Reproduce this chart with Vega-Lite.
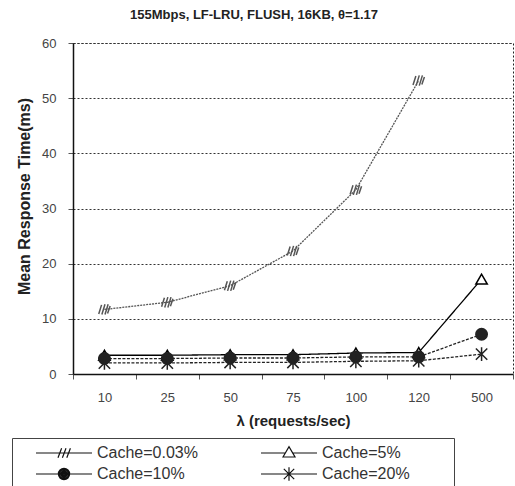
{
  "$schema": "https://vega.github.io/schema/vega-lite/v6.json",
  "width": 440,
  "height": 331,
  "autosize": "none",
  "padding": {"left": 73, "top": 43, "right": 2, "bottom": 112},
  "title": {"text": "155Mbps, LF-LRU, FLUSH, 16KB, θ=1.17", "fontSize": 13, "fontWeight": "bold", "font": "Liberation Sans", "color": "#222", "offset": 15, "dx": -39},
  "config": {"font": "Liberation Sans", "view": {"stroke": "#222", "strokeDash": [2, 2]}},
  "resolve": {"scale": {"shape": "independent"}, "legend": {"shape": "independent"}},
  "data": {"values": [
    {"lam": 10, "series": "Cache=0.03%", "t": 11.7},
    {"lam": 25, "series": "Cache=0.03%", "t": 13.0},
    {"lam": 50, "series": "Cache=0.03%", "t": 16.0},
    {"lam": 75, "series": "Cache=0.03%", "t": 22.3},
    {"lam": 100, "series": "Cache=0.03%", "t": 33.4},
    {"lam": 120, "series": "Cache=0.03%", "t": 53.2},
    {"lam": 10, "series": "Cache=5%", "t": 3.4},
    {"lam": 25, "series": "Cache=5%", "t": 3.4},
    {"lam": 50, "series": "Cache=5%", "t": 3.5},
    {"lam": 75, "series": "Cache=5%", "t": 3.5},
    {"lam": 100, "series": "Cache=5%", "t": 3.8},
    {"lam": 120, "series": "Cache=5%", "t": 3.9},
    {"lam": 500, "series": "Cache=5%", "t": 17.2},
    {"lam": 10, "series": "Cache=10%", "t": 2.8},
    {"lam": 25, "series": "Cache=10%", "t": 2.8},
    {"lam": 50, "series": "Cache=10%", "t": 2.9},
    {"lam": 75, "series": "Cache=10%", "t": 2.9},
    {"lam": 100, "series": "Cache=10%", "t": 3.1},
    {"lam": 120, "series": "Cache=10%", "t": 3.1},
    {"lam": 500, "series": "Cache=10%", "t": 7.2},
    {"lam": 10, "series": "Cache=20%", "t": 2.0},
    {"lam": 25, "series": "Cache=20%", "t": 2.0},
    {"lam": 50, "series": "Cache=20%", "t": 2.1},
    {"lam": 75, "series": "Cache=20%", "t": 2.1},
    {"lam": 100, "series": "Cache=20%", "t": 2.3},
    {"lam": 120, "series": "Cache=20%", "t": 2.4},
    {"lam": 500, "series": "Cache=20%", "t": 3.6}
  ]},
  "encoding": {
    "x": {
      "field": "lam", "type": "ordinal", "bandPosition": 0.5,
      "scale": {"type": "band", "paddingInner": 0, "paddingOuter": 0},
      "axis": {"title": "λ (requests/sec)", "labelAngle": 0, "labelFontSize": 13, "labelColor": "#444", "labelPadding": 12, "tickBand": "extent", "tickSize": 5, "tickColor": "#555", "domainColor": "#111", "domainWidth": 1.5, "grid": false, "titleFontSize": 15, "titleFontWeight": "bold", "titleColor": "#222", "titlePadding": 9}
    },
    "y": {
      "field": "t", "type": "quantitative",
      "scale": {"domain": [0, 60], "nice": false},
      "axis": {"title": "Mean Response Time(ms)", "values": [0, 10, 20, 30, 40, 50, 60], "titleFontSize": 16, "titleFontWeight": "bold", "titleColor": "#222", "titleX": -41, "titleY": 153, "grid": true, "gridColor": "#333", "gridDash": [2, 2], "domainColor": "#111", "domainWidth": 1.5, "tickColor": "#555", "tickSize": 5, "labelFontSize": 13, "labelColor": "#444", "labelPadding": 12}
    }
  },
  "layer": [
    {
      "mark": {"type": "line", "strokeWidth": 1.3},
      "encoding": {
        "stroke": {"field": "series", "type": "nominal", "scale": {"domain": ["Cache=5%", "Cache=0.03%", "Cache=10%", "Cache=20%"], "range": ["#000", "#555", "#222", "#222"]}, "legend": null},
        "strokeDash": {"field": "series", "type": "nominal", "scale": {"domain": ["Cache=5%", "Cache=0.03%", "Cache=10%", "Cache=20%"], "range": [[1, 0], [2, 1], [3, 1.5], [3, 1.5]]}, "legend": null}
      }
    },
    {
      "mark": {"type": "point", "strokeWidth": 1.5, "opacity": 1, "size": 130},
      "encoding": {
        "stroke": {"field": "series", "type": "nominal", "scale": {"domain": ["Cache=5%", "Cache=0.03%", "Cache=10%", "Cache=20%"], "range": ["#000", "#555", "#222", "#222"]}, "legend": null},
        "fill": {"field": "series", "type": "nominal", "scale": {"domain": ["Cache=5%", "Cache=0.03%", "Cache=10%", "Cache=20%"], "range": ["#fff", "transparent", "#222", "transparent"]}, "legend": null},
        "shape": {
          "field": "series", "type": "nominal",
          "scale": {"domain": ["Cache=0.03%", "Cache=5%", "Cache=10%", "Cache=20%"], "range": ["M-1,0.8L-0.5,-0.8M-0.45,0.9L0.1,-0.9M0.1,0.9L0.65,-0.9M0.55,0.7L1,-0.6", "triangle-up", "circle", "M-1,-1L1,1M-1,1L1,-1M0,-1.2L0,1.2"]},
          "legend": null
        }
      }
    },
    {
      "mark": {"type": "point", "opacity": 0, "color": "#111", "strokeWidth": 1.2},
      "encoding": {
        "shape": {
          "field": "series", "type": "nominal",
          "scale": {"domain": ["Cache=0.03%", "Cache=5%", "Cache=10%", "Cache=20%"], "range": [
            "M-3.5,0L3.5,0M-0.75,0.6L-0.3,-0.6M-0.2,0.6L0.25,-0.6M0.35,0.6L0.8,-0.6",
            "M19.5,0M-3.5,0L-0.46,0M0.46,0L3.5,0M-0.75,0.5L0,-0.8L0.75,0.5Z",
            "M-3.5,0L-0.7,0M0.7,0L3.5,0M-0.7,0A0.7,0.7,0,1,1,0.7,0A0.7,0.7,0,1,1,-0.7,0M-0.55,0A0.55,0.55,0,1,1,0.55,0A0.55,0.55,0,1,1,-0.55,0M-0.4,0A0.4,0.4,0,1,1,0.4,0A0.4,0.4,0,1,1,-0.4,0M-0.25,0A0.25,0.25,0,1,1,0.25,0A0.25,0.25,0,1,1,-0.25,0M-0.1,0A0.1,0.1,0,1,1,0.1,0A0.1,0.1,0,1,1,-0.1,0",
            "M19.5,0M-3.5,0L3.5,0M-0.65,-0.65L0.65,0.65M-0.65,0.65L0.65,-0.65M0,-0.85L0,0.85"
          ]},
          "legend": {
            "orient": "none", "legendX": -61, "legendY": 395, "columns": 2, "direction": "horizontal",
            "title": null, "strokeColor": "#444", "padding": 6, "symbolSize": 256, "symbolOffset": 37,
            "symbolOpacity": 1, "symbolFillColor": "transparent", "symbolStrokeColor": "#111", "symbolStrokeWidth": 1.2,
            "labelFontSize": 16, "labelFont": "Liberation Sans", "labelColor": "#333", "labelOffset": 24,
            "columnPadding": 45, "rowPadding": 3
          }
        }
      }
    }
  ]
}
